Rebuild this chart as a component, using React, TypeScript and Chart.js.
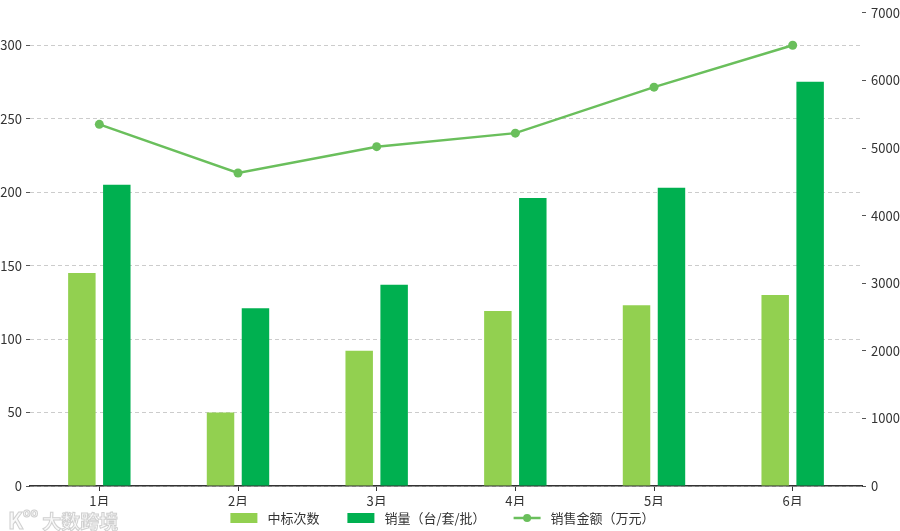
import React, { useEffect, useRef } from "react";
import { Chart, registerables } from "chart.js";

Chart.register(...registerables);

const FONT = '"Noto Sans CJK SC", "Noto Sans", sans-serif';

const categories = ["1月", "2月", "3月", "4月", "5月", "6月"];
const bidCounts = [145, 50, 92, 119, 123, 130];
const salesVolume = [205, 121, 137, 196, 203, 275];
const salesAmount = [5350, 4630, 5020, 5220, 5900, 6520];
const seriesLabels = ["中标次数", "销量（台/套/批）", "销售金额（万元）"];

const COLOR_LIGHT = "#92d050";
const COLOR_DARK = "#00b050";
const COLOR_LINE = "#6abf5c";

const customLegend = {
  id: "customLegend",
  afterDraw(chart: any) {
    const ctx = chart.ctx as CanvasRenderingContext2D;
    const boxW = 27, boxH = 10, gap = 10, spacing = 28;
    const cy = 518;
    const cx = 442.5;
    ctx.save();
    ctx.font = `13px ${FONT}`;
    ctx.textBaseline = "middle";
    ctx.textAlign = "left";
    const ds = chart.data.datasets;
    const widths = ds.map((d: any) => boxW + gap + ctx.measureText(d.label).width);
    const total = widths.reduce((a: number, b: number) => a + b, 0) + spacing * (ds.length - 1);
    let x = cx - total / 2;
    ds.forEach((d: any, i: number) => {
      if (d.type === "line") {
        ctx.strokeStyle = d.borderColor;
        ctx.lineWidth = 2.5;
        ctx.beginPath();
        ctx.moveTo(x, cy);
        ctx.lineTo(x + boxW, cy);
        ctx.stroke();
        ctx.fillStyle = d.borderColor;
        ctx.beginPath();
        ctx.arc(x + boxW / 2, cy, 4, 0, Math.PI * 2);
        ctx.fill();
      } else {
        ctx.fillStyle = d.backgroundColor;
        ctx.fillRect(x, cy - boxH / 2, boxW, boxH);
      }
      ctx.fillStyle = "#333333";
      ctx.fillText(d.label, x + boxW + gap, cy + 0.5);
      x += widths[i] + spacing;
    });
    ctx.restore();
  },
};

export default function App() {
  const canvasRef = useRef<HTMLCanvasElement | null>(null);

  useEffect(() => {
    document.body.style.margin = "0";
    const canvas = canvasRef.current;
    if (!canvas) return;
    Chart.defaults.font.family = FONT;
    const chart = new Chart(canvas, {
      type: "bar",
      data: {
        labels: categories,
        datasets: [
          {
            type: "bar",
            label: seriesLabels[0],
            data: bidCounts,
            backgroundColor: COLOR_LIGHT,
            yAxisID: "y",
            categoryPercentage: 0.504,
            barPercentage: 0.786,
            order: 1,
          },
          {
            type: "bar",
            label: seriesLabels[1],
            data: salesVolume,
            backgroundColor: COLOR_DARK,
            yAxisID: "y",
            categoryPercentage: 0.504,
            barPercentage: 0.786,
            order: 1,
          },
          {
            type: "line",
            label: seriesLabels[2],
            data: salesAmount,
            borderColor: COLOR_LINE,
            backgroundColor: COLOR_LINE,
            borderWidth: 2.5,
            pointRadius: 4.5,
            pointBackgroundColor: COLOR_LINE,
            pointBorderWidth: 0,
            tension: 0,
            yAxisID: "y1",
            order: 0,
          },
        ] as any,
      },
      options: {
        responsive: false,
        animation: false,
        devicePixelRatio: window.devicePixelRatio || 1,
        layout: { padding: { top: 11, bottom: 25, left: 0, right: 0 } },
        plugins: {
          legend: { display: false },
          tooltip: { enabled: false },
        },
        scales: {
          x: {
            offset: true,
            grid: {
              display: true,
              drawOnChartArea: false,
              drawTicks: true,
              tickLength: 5,
              tickColor: "#333333",
              offset: false,
            },
            border: { display: true, color: "#333333", width: 1.5 },
            ticks: { color: "#333333", font: { size: 13, family: FONT }, padding: 2 },
            afterFit: (s: any) => {
              s.height = 20;
            },
          },
          y: {
            position: "left",
            min: 0,
            max: 322,
            ticks: {
              stepSize: 50,
              includeBounds: false,
              color: "#333333",
              font: { size: 13, family: FONT },
              padding: 4,
              callback: (v: any) => String(v),
            },
            grid: {
              color: "#cccccc",
              lineWidth: 1,
              tickColor: "#555555",
              tickLength: 4,
              drawTicks: true,
            },
            border: { display: false, dash: [4, 3] },
            afterFit: (s: any) => {
              s.width = 30;
            },
          },
          y1: {
            position: "right",
            min: 0,
            max: 7000,
            ticks: {
              stepSize: 1000,
              color: "#333333",
              font: { size: 13, family: FONT },
              padding: 5,
              callback: (v: any) => String(v),
            },
            grid: {
              drawOnChartArea: false,
              tickColor: "#555555",
              tickLength: 4,
            },
            border: { display: false },
            afterFit: (s: any) => {
              s.width = 38;
            },
          },
        },
      } as any,
      plugins: [customLegend],
    });
    return () => chart.destroy();
  }, []);

  return (
    <div style={{ position: "relative", width: 900, height: 531, background: "#ffffff", overflow: "hidden" }}>
      <canvas ref={canvasRef} width={900} height={531} style={{ display: "block" }} />
      <div
        style={{
          position: "absolute",
          left: 8,
          top: 503,
          fontFamily: FONT,
          fontSize: 19,
          fontWeight: 700,
          color: "rgba(245,245,245,0.6)",
          WebkitTextStroke: "1px rgba(200,200,200,0.85)",
          whiteSpace: "nowrap",
          pointerEvents: "none",
          letterSpacing: 0,
        }}
      >
        <span style={{ fontSize: 22 }}>K</span>
        <span style={{ fontSize: 12, verticalAlign: "top", marginRight: 4 }}>oo</span>
        <span>大数跨境</span>
      </div>
    </div>
  );
}
